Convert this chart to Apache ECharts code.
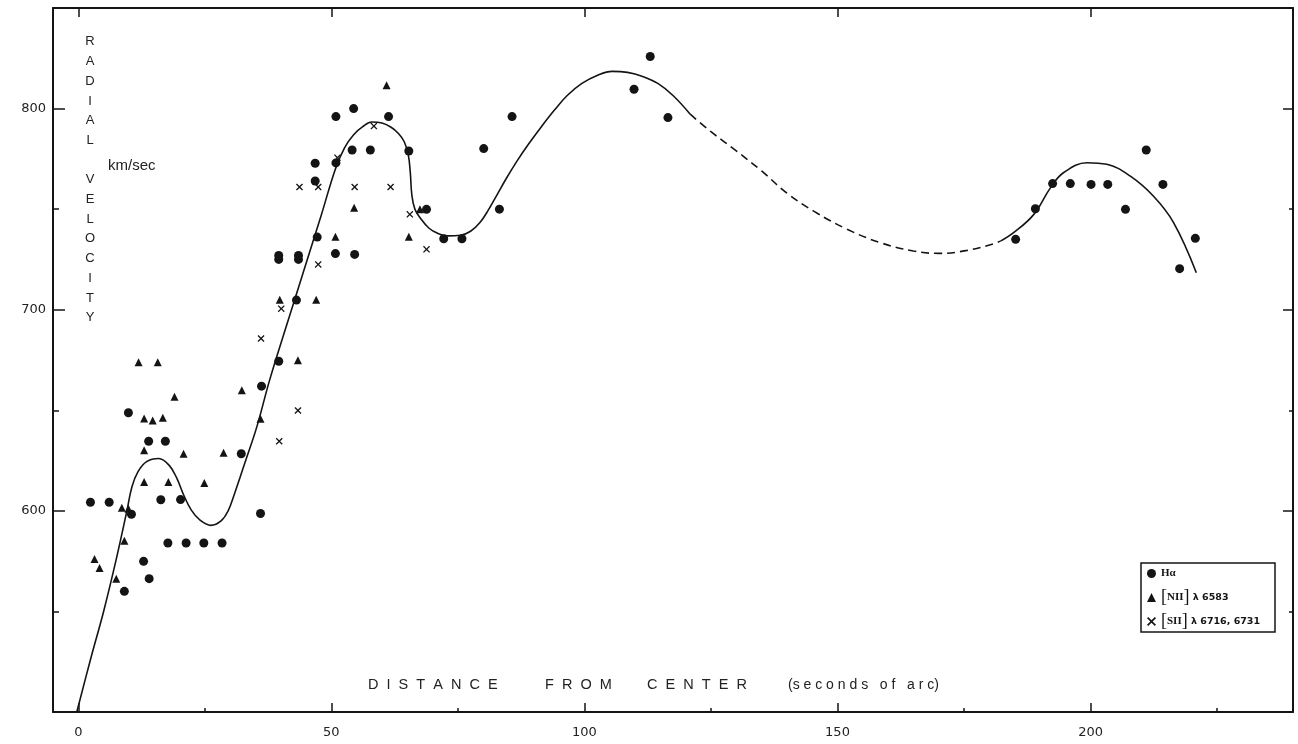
<!DOCTYPE html>
<html>
<head>
<meta charset="utf-8">
<script src="https://cdn.jsdelivr.net/npm/echarts@6/dist/echarts.min.js"></script>
<style>
html,body{margin:0;padding:0;background:#ffffff;}
#chart{width:1298px;height:744px;}
</style>
</head>
<body>
<div id="chart"></div>
<script>
// ---- Data ----
const haPoints = [
  [2.4,604.3],[6.1,604.3],[9.9,648.8],[10.5,598.3],[9.1,560],[12.9,574.9],[14.0,566.3],
  [13.9,634.6],[17.2,634.6],[16.3,605.5],[20.2,605.6],[17.7,584],[21.3,584],[24.8,584],[28.4,584],
  [32.2,628.4],[36.2,662],[36.0,598.7],[39.6,674.4],
  [43.1,704.8],[39.6,727],[39.6,725],[43.5,727],[43.5,725],[47.2,736.1],[50.8,727.9],[54.6,727.5],
  [46.8,764],[46.8,772.8],[50.9,773],[54.1,779.4],[57.7,779.4],[50.9,796],[54.4,800],[61.3,796],
  [65.3,778.9],[68.8,749.9],[72.2,735.3],[75.8,735.3],[80.1,780.1],[83.2,750],[85.7,796],
  [109.8,809.6],[113.0,825.9],[116.5,795.5],
  [185.2,735],[189.1,750.2],[192.5,762.7],[196.0,762.7],[200.1,762.3],[203.4,762.3],[206.9,749.9],
  [211.0,779.4],[214.3,762.3],[217.6,720.4],[220.7,735.5]
];
const niiPoints = [
  [3.2,576.1],[4.2,571.6],[7.5,566.3],[8.6,601.5],[9.9,601.1],[9.1,585.2],[11.9,673.9],[15.7,673.9],
  [13.0,645.9],[14.7,644.9],[16.7,646.3],[13.0,630.1],[13.0,614.4],[17.8,614.4],[19.0,656.7],
  [20.8,628.4],[24.9,613.9],[28.7,628.9],[32.3,660],[36.0,645.8],[39.8,705],[43.4,674.9],[47.0,705],
  [50.8,736.3],[54.5,750.7],[60.9,811.6],[65.3,736.3],[67.5,749.9]
];
const siiPoints = [
  [36.1,685.7],[40.1,700.5],[39.7,634.6],[43.4,649.9],[47.4,722.5],[43.7,761],[47.4,761],
  [51.2,775.6],[54.6,761],[58.4,791.3],[61.7,761],[65.5,747.4],[68.8,730]
];
const curveSolidA = [
  [-0.3,500],[2.5,527],[5,550],[7.5,576],[9.6,600],[10.6,612],[11.8,619.5],[13.5,624.5],[15.9,626],
  [18,622.5],[19.5,616],[20.8,608],[22.3,600.5],[24,595.5],[26.2,592.8],[28.2,595],[29.6,600],
  [30.8,608],[32,617],[33.2,626],[35.3,642],[37.8,665],[41,691],[44.5,719],[48,747],[50.8,770],
  [52.6,780.5],[54.4,787],[56.2,791],[58,793.3],[60,792.8],[61.8,790.7],[63.3,787.5],[64.4,783.5],
  [65.2,777],[65.6,768],[65.9,757],[66.5,750],[67.6,745.5],[69.3,740.5],[71,738],[73,736.7],
  [75.5,737],[77.5,739],[79.4,743.5],[81,749.5],[82.7,757],[84.5,765],[86.7,774],[89,782.5],
  [91.5,791],[94,799],[96.6,806.5],[99.5,812.5],[102.5,816.5],[105.5,818.5],[108.5,818],[111.5,816],
  [114.5,812.5],[117.5,806.5],[120.9,797.2]
];
const curveDashed = [
  [120.9,797.2],[125,788.5],[130,779],[135,769],[140,758],[145.3,749],[151.9,740],[158.4,733.4],
  [165,729.2],[170.3,728],[175.6,729.5],[180.9,732.8],[182.2,734.1]
];
const curveSolidB = [
  [182.2,734.1],[184.8,738.3],[188.8,747.4],[192.1,760.7],[194.7,768.2],[199.3,773.1],[203.2,772.3],
  [207.8,766.5],[212.4,756.5],[216.4,743.3],[220.9,718.4]
];
const xMajorTicks = [0,50,100,150,200];
const xMinorTicks = [25,75,125,175,225];
const yMajorTicks = [600,700,800];
const yMinorTicks = [550,650,750];
const seriesNames = ['Hα','[NII] λ 6583','[SII] λ 6716, 6731'];

// ---- Chart ----
const INK = '#141414';
const XMIN = -5, XMAX = 240, YMIN = 500, YMAX = 850;
const crossPath = 'path://M0,1.3L1.3,0L5,3.7L8.7,0L10,1.3L6.3,5L10,8.7L8.7,10L5,6.3L1.3,10L0,8.7L3.7,5Z';
const gridBox = {left:53, right:5, top:8, bottom:32};
const labelFont = {fontFamily:'DejaVu Sans', fontSize:13, color:'#222'};
const hiddenLine = {show:false, onZero:false};

function xAx(gi, opts){
  return Object.assign({
    type:'value', gridIndex:gi, min:XMIN, max:XMAX, position:'bottom',
    splitLine:{show:false}, axisLine:hiddenLine, axisTick:{show:false}, axisLabel:{show:false}
  }, opts);
}
function yAx(gi, opts){
  return Object.assign({
    type:'value', gridIndex:gi, min:YMIN, max:YMAX, position:'left',
    splitLine:{show:false}, axisLine:hiddenLine, axisTick:{show:false}, axisLabel:{show:false}
  }, opts);
}
const lineAx = {show:true, onZero:false, lineStyle:{color:INK, width:2}};
function ticks(len, vals){
  return {show:true, inside:true, length:len, customValues:vals, lineStyle:{color:INK, width:1.5}};
}

const chart = echarts.init(document.getElementById('chart'));
chart.setOption({
  backgroundColor:'#ffffff',
  animation:false,
  grid:[0,1,2,3].map(()=>Object.assign({}, gridBox)),
  xAxis:[
    xAx(0,{axisLine:lineAx, axisTick:ticks(9, xMajorTicks),
      axisLabel:Object.assign({show:true, margin:14, customValues:xMajorTicks}, labelFont)}),
    xAx(1,{axisTick:ticks(4, xMinorTicks)}),
    xAx(2,{position:'top', axisLine:lineAx, axisTick:ticks(9, xMajorTicks)}),
    xAx(3,{show:false})
  ],
  yAxis:[
    yAx(0,{axisLine:lineAx, axisTick:ticks(12, yMajorTicks),
      axisLabel:Object.assign({show:true, margin:7, customValues:yMajorTicks}, labelFont)}),
    yAx(1,{axisTick:ticks(6, yMinorTicks)}),
    yAx(2,{position:'right', axisLine:lineAx, axisTick:ticks(10, yMajorTicks)}),
    yAx(3,{position:'right', axisTick:ticks(4, yMinorTicks)})
  ],
  legend:{
    orient:'vertical', left:1147, top:563, itemWidth:9, itemHeight:9, itemGap:3,
    padding:0, selectedMode:false,
    data:[
      {name:seriesNames[0], icon:'circle'},
      {name:seriesNames[1], icon:'triangle'},
      {name:seriesNames[2], icon:crossPath}
    ],
    formatter:function(name){
      if(name === seriesNames[0]) return '{b|Hα}';
      const m = name.match(/^\[(\w+)\]\s*(.*)$/);
      return '{br|[}{b|' + m[1] + '}{br|]}{s| ' + m[2] + '}';
    },
    textStyle:{
      color:INK, lineHeight:21, height:21,
      rich:{
        b:{fontFamily:'Liberation Serif', fontWeight:'bold', fontSize:11, color:INK, lineHeight:21},
        br:{fontFamily:'Liberation Serif', fontSize:18, color:INK, lineHeight:21},
        s:{fontFamily:'DejaVu Sans', fontWeight:'bold', fontSize:9.5, color:INK, lineHeight:21}
      }
    }
  },
  graphic:[
    {type:'rect', shape:{x:1141, y:563, width:134, height:69},
     style:{fill:'none', stroke:INK, lineWidth:1.5}, z:100, silent:true},
    {type:'text', x:90, y:32, z:100, silent:true,
     style:{text:'R\nA\nD\nI\nA\nL\n\nV\nE\nL\nO\nC\nI\nT\nY', align:'center', verticalAlign:'top',
       font:'13px "Liberation Sans"', fill:'#222', lineHeight:19.7}},
    {type:'text', x:108, y:166, z:100, silent:true,
     style:{text:'km/sec', align:'left', verticalAlign:'middle', font:'15px "Liberation Sans"', fill:'#222'}},
    {type:'text', x:368, y:685, z:100, silent:true,
     style:{text:'D  I  S  T  A  N  C  E', align:'left', verticalAlign:'middle', font:'14.5px "Liberation Sans"', fill:'#222'}},
    {type:'text', x:545, y:685, z:100, silent:true,
     style:{text:'F  R  O  M', align:'left', verticalAlign:'middle', font:'14.5px "Liberation Sans"', fill:'#222'}},
    {type:'text', x:647, y:685, z:100, silent:true,
     style:{text:'C  E  N  T  E  R', align:'left', verticalAlign:'middle', font:'14.5px "Liberation Sans"', fill:'#222'}},
    {type:'text', x:788, y:685, z:100, silent:true,
     style:{text:'(s e c o n d s   o f   a r c)', align:'left', verticalAlign:'middle', font:'14px "Liberation Sans"', fill:'#222'}}
  ],
  series:[
    {type:'line', name:'fit-a', data:curveSolidA, smooth:0.4, symbol:'none', silent:true,
     lineStyle:{color:INK, width:1.6}, z:2},
    {type:'line', name:'fit-dashed', data:curveDashed, smooth:0.4, symbol:'none', silent:true,
     lineStyle:{color:INK, width:1.6, type:[8,5]}, z:2},
    {type:'line', name:'fit-b', data:curveSolidB, smooth:0.4, symbol:'none', silent:true,
     lineStyle:{color:INK, width:1.6}, z:2},
    {type:'scatter', name:seriesNames[0], data:haPoints, symbol:'circle', symbolSize:9,
     itemStyle:{color:INK, opacity:1}, z:5},
    {type:'scatter', name:seriesNames[1], data:niiPoints, symbol:'triangle', symbolSize:[8,8],
     itemStyle:{color:INK, opacity:1}, z:5},
    {type:'scatter', name:seriesNames[2], data:siiPoints, symbol:crossPath, symbolSize:7,
     itemStyle:{color:INK, opacity:1}, z:5}
  ]
});
</script>
</body>
</html>
